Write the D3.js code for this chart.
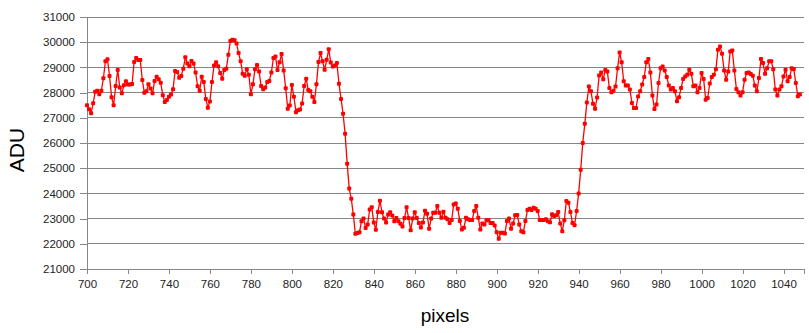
<!DOCTYPE html>
<html>
<head>
<meta charset="utf-8">
<style>
  body { margin: 0; background: #fff; }
  text { font-family: "Liberation Sans", Arial, sans-serif; }
</style>
</head>
<body>
<svg id="chart" width="809" height="333"></svg>
<script src="https://cdn.jsdelivr.net/npm/d3@7"></script>
<script>
// first pixel column shown, one ADU reading per pixel after it
const firstPixel = 700

const adu = [
  27500, 27340, 27180, 27580, 28030, 28070, 27930, 28070, 28570, 29240,
  29320, 28660, 27820, 27500, 28260, 28900, 28200, 27970, 28290, 28450,
  28320, 28320, 28340, 29210, 29370, 29290, 29290, 28500, 27990, 28050,
  28330, 28160, 27970, 28460, 28630, 28530, 28390, 27890, 27630, 27710,
  27840, 27920, 28130, 28860, 28820, 28590, 28660, 28950, 29400, 29150,
  29050, 29250, 29150, 28800, 28250, 28070, 28630, 28420, 27750, 27400,
  27650, 28420, 29080, 29200, 29050, 28780, 28550, 28900, 28950, 29500,
  30050, 30100, 30080, 29950, 29570, 29240, 28750, 28670, 28930, 28710,
  27930, 28330, 28930, 29100, 28840, 28260, 28130, 28200, 28420, 28460,
  28800, 29370, 29430, 28900, 29200, 29530, 28880, 28170, 27360, 27490,
  28300, 27840, 27220, 27300, 27330, 27570, 28260, 28550, 28100, 28050,
  27840, 27630, 28330, 29210, 29570, 29240, 28910, 29300, 29720, 29190,
  29040, 29080, 29170, 28350, 27750, 27160, 26370, 25180, 24190, 23790,
  23160, 22400, 22430, 22460, 22890, 23000, 22630, 22770, 23360, 23450,
  22850, 22560, 23260, 23710, 23250, 23000, 22850, 23160, 23250, 23120,
  22890, 23020, 22890, 22800, 22690, 23020, 23450, 23020, 22540, 23000,
  23250, 23020, 22830, 22650, 22850, 23310, 23190, 22600, 23000, 23230,
  23230, 23500, 23230, 23030, 23270, 23030, 22970, 22830, 22940, 23560,
  23600, 23390, 22900, 22570, 22640, 23030, 22970, 22940, 22940, 23300,
  23500, 23030, 22570, 22810, 22770, 22930, 22930, 22830, 22830, 22730,
  22460, 22200, 22440, 22440, 22410, 22900, 23000, 22600, 22810, 23130,
  23140, 22770, 22500, 22460, 22900, 23340, 23390, 23340, 23430, 23390,
  23300, 22940, 22940, 22940, 22970, 22890, 22860, 23170, 23100, 23130,
  23260, 22810, 22500, 22930, 23700, 23630, 23260, 22830, 22740, 23300,
  24000, 24940, 26000, 26760, 27610, 28240, 28050, 27560, 27360, 27810,
  28680, 28800, 28530, 28900, 28840, 28180, 28010, 28070, 28240, 28970,
  29590, 29200, 28450, 28280, 28280, 28120, 27590, 27390, 27390, 27850,
  28050, 28320, 28620, 29200, 29330, 28800, 27880, 27350, 27530, 28380,
  28970, 29040, 28880, 28620, 28280, 28120, 28180, 28050, 27660, 27820,
  28180, 28540, 28640, 28710, 28910, 28750, 28250, 28280, 28010, 28180,
  28780, 28540, 27720, 27790, 28360, 28620, 28710, 28930, 29700, 29830,
  29540, 28880, 28510, 28840, 29630, 29670, 28880, 28140, 28010, 27880,
  28010, 28510, 28780, 28800, 28740, 28670, 28280, 28050, 28580, 29330,
  29170, 28750, 28970, 29240, 29240, 28930, 28120, 27880, 28120, 28250,
  28640, 28910, 28450, 28620, 28970, 28930, 28380, 27860, 27920
]

const xTicks = [700, 720, 740, 760, 780, 800, 820, 840, 860, 880, 900, 920, 940, 960, 980, 1000, 1020, 1040]
const yTicks = [21000, 22000, 23000, 24000, 25000, 26000, 27000, 28000, 29000, 30000, 31000]
const xDomain = [700, 1050]
const yDomain = [21000, 31000]

let svg = d3.select("#chart")

let plotLeft = 87, plotRight = 804, plotTop = 17, plotBottom = 269
let gridColor = "#868686"

let x = d3.scaleLinear().domain(xDomain).range([plotLeft, plotRight])
let y = d3.scaleLinear().domain(yDomain).range([plotBottom, plotTop])

let points = adu.map((v, i) => ({px: firstPixel + i, v: v}))

// horizontal grid
svg.append("g")
    .selectAll("line")
    .data(yTicks)
    .enter().append("line")
    .attr("x1", plotLeft).attr("x2", plotRight)
    .attr("y1", d => y(d)).attr("y2", d => y(d))
    .attr("stroke", gridColor)
    .attr("stroke-width", 1)
    .attr("shape-rendering", "crispEdges")

// y axis
let yAxis = svg.append("g")
    .attr("transform", `translate(${plotLeft},0)`)
    .call(d3.axisLeft(y).tickValues(yTicks).tickSize(7).tickPadding(5).tickFormat(d3.format("d")))
yAxis.select(".domain").attr("stroke", gridColor).attr("shape-rendering", "crispEdges")
yAxis.selectAll(".tick line").attr("stroke", gridColor).attr("shape-rendering", "crispEdges")
yAxis.selectAll("text").attr("font-size", 11.5).attr("fill", "#222")

// x axis
let xAxis = svg.append("g")
    .attr("transform", `translate(0,${plotBottom})`)
    .call(d3.axisBottom(x).tickValues(xTicks).tickSize(5).tickPadding(6).tickFormat(d3.format("d")))
xAxis.select(".domain").attr("stroke", gridColor).attr("shape-rendering", "crispEdges")
xAxis.selectAll(".tick line").attr("stroke", gridColor).attr("shape-rendering", "crispEdges")
xAxis.selectAll("text").attr("font-size", 11.5).attr("fill", "#222")

// data line
let line = d3.line()
    .x(d => x(d.px))
    .y(d => y(d.v))

svg.append("path")
    .datum(points)
    .attr("d", line)
    .attr("fill", "none")
    .attr("stroke", "#ff0000")
    .attr("stroke-width", 1.3)

svg.append("g")
    .selectAll("rect")
    .data(points)
    .enter().append("rect")
    .attr("x", d => x(d.px) - 2)
    .attr("y", d => y(d.v) - 2)
    .attr("width", 4)
    .attr("height", 4)
    .attr("rx", 1)
    .attr("fill", "#ff0000")

// titles
svg.append("text")
    .attr("transform", "translate(24,150) rotate(-90)")
    .attr("text-anchor", "middle")
    .attr("font-size", 21)
    .text("ADU")

svg.append("text")
    .attr("x", 445)
    .attr("y", 322)
    .attr("text-anchor", "middle")
    .attr("font-size", 19)
    .text("pixels")
</script>
</body>
</html>
